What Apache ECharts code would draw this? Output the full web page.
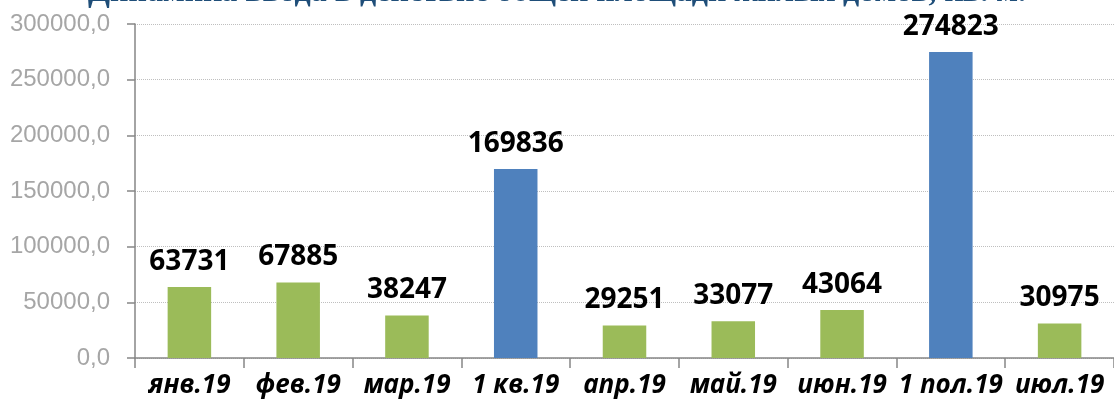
<!DOCTYPE html>
<html>
<head>
<meta charset="utf-8">
<script src="https://cdn.jsdelivr.net/npm/echarts@6/dist/echarts.min.js"></script>
<style>
  html, body { margin: 0; padding: 0; background: #fff; }
  #chart { width: 1114px; height: 410px; }
</style>
</head>
<body>
<div id="chart"></div>
<script>
// данные
const titleText = "Динамика ввода в действие общей площади жилых домов, кв. м.";
const categories = ["янв.19", "фев.19", "мар.19", "1 кв.19", "апр.19", "май.19", "июн.19", "1 пол.19", "июл.19"];
const values = [63731, 67885, 38247, 169836, 29251, 33077, 43064, 274823, 30975];
// итоговые периоды (квартал, полугодие) выделены синим
const isTotal = [false, false, false, true, false, false, false, true, false];

const green = "#9BBB59";
const blue = "#4F81BD";

const chart = echarts.init(document.getElementById("chart"));

chart.setOption({
  animation: false,
  graphic: [{
    type: "text",
    left: "center",
    top: -23,
    style: {
      text: titleText,
      font: "bold 32px 'Liberation Serif'",
      fill: "#1F4E79"
    }
  }],
  grid: { left: 135, top: 24, width: 990, height: 334 },
  xAxis: {
    type: "category",
    data: categories,
    axisLine: { lineStyle: { color: "#868686", width: 1.5 } },
    axisTick: { show: true, length: 10, lineStyle: { color: "#868686", width: 1.5 } },
    axisLabel: {
      interval: 0,
      margin: 15,
      color: "#000",
      fontFamily: "Open Sans",
      fontSize: 26,
      fontWeight: "bold",
      fontStyle: "italic"
    }
  },
  yAxis: {
    type: "value",
    min: 0,
    max: 300000,
    interval: 50000,
    axisLine: { show: true, lineStyle: { color: "#868686", width: 1.5 } },
    axisTick: { show: true, inside: false, length: 8, lineStyle: { color: "#868686", width: 1.5 } },
    splitLine: { lineStyle: { color: "#BFBFBF", type: "dotted", width: 1 } },
    axisLabel: {
      margin: 25,
      color: "#A6A6A6",
      fontFamily: "Liberation Sans",
      fontSize: 24,
      formatter: (v) => v.toFixed(1).replace(".", ",")
    }
  },
  series: [{
    type: "bar",
    barWidth: "40%",
    data: values.map((v, i) => ({
      value: v,
      itemStyle: { color: isTotal[i] ? blue : green }
    })),
    label: {
      show: true,
      position: "top",
      distance: 11,
      color: "#000",
      fontFamily: "Open Sans",
      fontSize: 28,
      fontWeight: "bold"
    }
  }]
});
</script>
</body>
</html>
